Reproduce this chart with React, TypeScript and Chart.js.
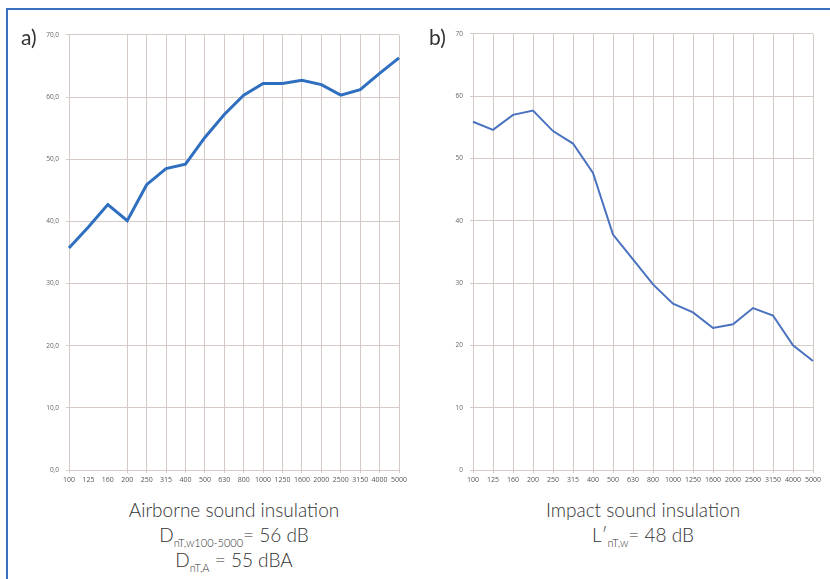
import React, { useEffect, useRef } from "react";
import { Chart, registerables } from "chart.js";

Chart.register(...registerables);

const frequencies = ["100", "125", "160", "200", "250", "315", "400", "500", "630", "800", "1000", "1250", "1600", "2000", "2500", "3150", "4000", "5000"];
const airborneValues = [35.7, 39.1, 42.7, 40.1, 45.9, 48.5, 49.2, 53.5, 57.2, 60.3, 62.2, 62.2, 62.7, 62.0, 60.3, 61.2, 63.8, 66.3];
const impactValues = [55.9, 54.6, 57.0, 57.7, 54.4, 52.4, 47.7, 37.8, 33.8, 29.8, 26.7, 25.3, 22.8, 23.4, 26.0, 24.8, 20.0, 17.5];
const yTicksA = ["0,0", "10,0", "20,0", "30,0", "40,0", "50,0", "60,0", "70,0"];
const yTicksB = ["0", "10", "20", "30", "40", "50", "60", "70"];
const hiddenGridA = [1, 2];

const GRID = "rgb(214,202,198)";
const FONT = "'Open Sans', 'DejaVu Sans', sans-serif";

type Props = {
  values: number[];
  yLabels: string[];
  color: string;
  lineWidth: number;
  yWidth: number;
  hiddenGrid: number[];
  style: React.CSSProperties;
};

function LineChart({ values, yLabels, color, lineWidth, yWidth, hiddenGrid, style }: Props) {
  const ref = useRef<HTMLCanvasElement | null>(null);
  useEffect(() => {
    if (!ref.current) return;
    const chart = new Chart(ref.current, {
      type: "line",
      data: {
        labels: frequencies,
        datasets: [
          {
            data: values,
            borderColor: color,
            borderWidth: lineWidth,
            pointRadius: 0,
            tension: 0,
            fill: false,
          },
        ],
      },
      options: {
        responsive: false,
        animation: false,
        layout: { padding: { top: 8, right: 12, left: 0, bottom: 0 } },
        plugins: { legend: { display: false }, tooltip: { enabled: false } },
        scales: {
          x: {
            offset: false,
            grid: {
              color: (ctx: any) => (hiddenGrid.includes(ctx.index) ? "rgba(0,0,0,0)" : GRID),
              lineWidth: 1,
              tickLength: 3,
            },
            border: { color: GRID },
            ticks: {
              autoSkip: false,
              maxRotation: 0,
              minRotation: 0,
              padding: 3,
              color: "#555",
              font: { family: FONT, size: 7 },
            },
            afterFit: (scale: any) => {
              scale.height = 18;
            },
          },
          y: {
            min: 0,
            max: 70,
            grid: { color: GRID, lineWidth: 1, tickLength: 3 },
            border: { color: GRID },
            ticks: {
              stepSize: 10,
              padding: 7,
              color: "#666",
              font: { family: FONT, size: 6.5 },
              callback: (v: any) => yLabels[Math.round(Number(v) / 10)],
            },
            afterFit: (scale: any) => {
              scale.width = yWidth;
            },
          },
        },
      },
    });
    return () => chart.destroy();
  }, []);
  return <canvas ref={ref} width={style.width as number} height={style.height as number} style={{ position: "absolute", ...style }} />;
}

const captionFont: React.CSSProperties = {
  position: "absolute",
  fontFamily: "Lato, 'Open Sans', sans-serif",
  fontWeight: 300,
  fontSize: 19,
  color: "#333",
  whiteSpace: "nowrap",
  textAlign: "center",
  lineHeight: "20px",
};

const subStyle: React.CSSProperties = { fontSize: 11, verticalAlign: "-5px", lineHeight: 0 };

export default function App() {
  return (
    <div style={{ position: "fixed", left: 0, top: 0, width: 830, height: 579, background: "#fff", overflow: "hidden" }}>
      <div
        style={{
          position: "absolute",
          left: 6,
          top: 8,
          width: 840,
          height: 600,
          borderTop: "2px solid #3b6fc0",
          borderLeft: "2px solid #3b6fc0",
        }}
      />
      <LineChart
        values={airborneValues}
        yLabels={yTicksA}
        color="#2f6fc0"
        lineWidth={3}
        yWidth={49}
        hiddenGrid={hiddenGridA}
        style={{ left: 20, top: 24, width: 391, height: 464 }}
      />
      <LineChart
        values={impactValues}
        yLabels={yTicksB}
        color="#4a72c0"
        lineWidth={2}
        yWidth={43}
        hiddenGrid={[]}
        style={{ left: 430, top: 23, width: 395, height: 465 }}
      />
      <div style={{ ...captionFont, left: 21, top: 27, fontSize: 21, fontWeight: 400, textAlign: "left" }}>a)</div>
      <div style={{ ...captionFont, left: 429, top: 27, fontSize: 21, fontWeight: 400, textAlign: "left" }}>b)</div>

      <div style={{ ...captionFont, left: 34, width: 400, top: 500 }}>Airborne sound insulation</div>
      <div style={{ ...captionFont, left: 34, width: 400, top: 525 }}>
        D<sub style={subStyle}>nT,w100-5000</sub>= 56 dB
      </div>
      <div style={{ ...captionFont, left: 34, width: 400, top: 550 }}>
        D<sub style={subStyle}>nT,A</sub> = 55 dBA
      </div>

      <div style={{ ...captionFont, left: 443, width: 400, top: 500 }}>Impact sound insulation</div>
      <div style={{ ...captionFont, left: 443, width: 400, top: 525 }}>
        L′<sub style={subStyle}>nT,w</sub>= 48 dB
      </div>
    </div>
  );
}
